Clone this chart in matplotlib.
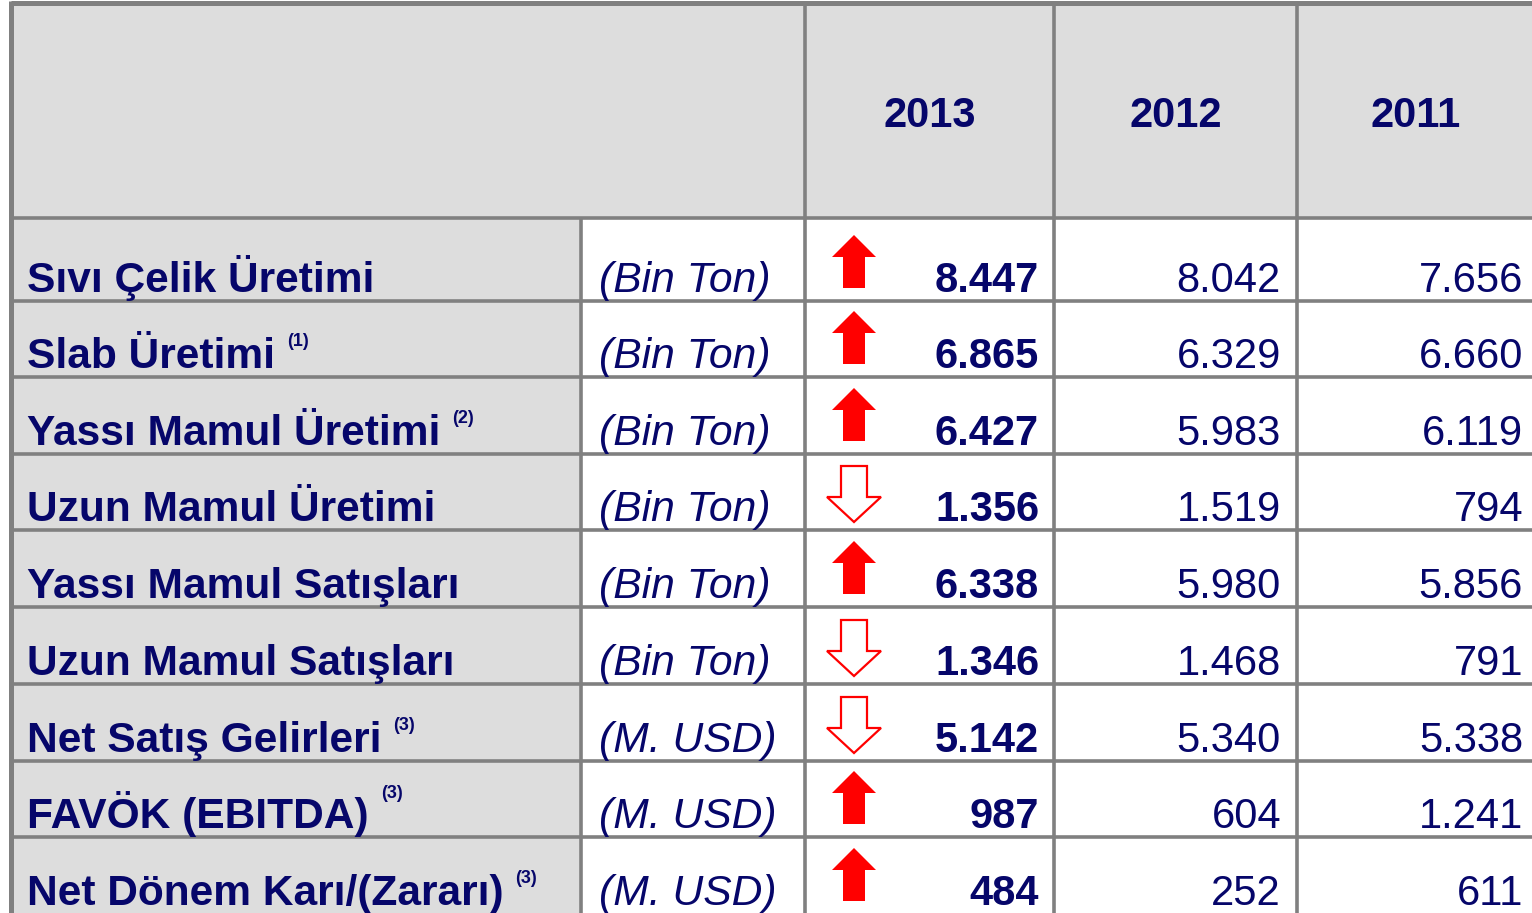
import matplotlib.pyplot as plt
from matplotlib.patches import Rectangle, Polygon

# table data
years = ["2013", "2012", "2011"]
labels = ["Sıvı Çelik Üretimi", "Slab Üretimi", "Yassı Mamul Üretimi",
          "Uzun Mamul Üretimi", "Yassı Mamul Satışları", "Uzun Mamul Satışları",
          "Net Satış Gelirleri", "FAVÖK (EBITDA)", "Net Dönem Karı/(Zararı)"]
notes = ["", "(1)", "(2)", "", "", "", "(3)", "(3)", "(3)"]
units = ["(Bin Ton)"] * 6 + ["(M. USD)"] * 3
v2013 = [8447, 6865, 6427, 1356, 6338, 1346, 5142, 987, 484]
v2012 = [8042, 6329, 5983, 1519, 5980, 1468, 5340, 604, 252]
v2011 = [7656, 6660, 6119, 794, 5856, 791, 5338, 1241, 611]

NAVY = "#06066a"
GRID = "#808080"
SHADE = "#dddddd"
RED = "#ff0000"
FONT = "Liberation Sans"
FS = 30

W, H = 1532, 913
fig = plt.figure(figsize=(W / 100, H / 100), dpi=100)
ax = fig.add_axes([0, 0, 1, 1])
ax.set_xlim(0, W)
ax.set_ylim(H, 0)
ax.axis("off")

# layout (pixels)
x_left, x_unit, x_d1, x_d2, x_d3, x_right = 10.5, 581, 805, 1054, 1297, 1540
y_top, y_head = 3.5, 218
row_lines = [218, 301, 377, 454, 530, 607, 684, 761, 837, 914]
lw = 2.6


def fmt(v):
    return f"{v:,}".replace(",", ".")


# backgrounds
ax.add_patch(Rectangle((x_left, y_top), x_right - x_left, y_head - y_top,
                       facecolor=SHADE, edgecolor="none"))
ax.add_patch(Rectangle((x_left, y_head), x_unit - x_left, H - y_head,
                       facecolor=SHADE, edgecolor="none"))

# grid lines
ax.plot([x_left, x_right], [y_top, y_top], color=GRID, lw=3.6, solid_capstyle="butt")
ax.plot([x_left, x_left], [y_top - 2, H], color=GRID, lw=3.6, solid_capstyle="butt")
for y in row_lines[:-1]:
    ax.plot([x_left, x_right], [y, y], color=GRID, lw=lw, solid_capstyle="butt")
ax.plot([x_unit, x_unit], [y_head, H], color=GRID, lw=lw, solid_capstyle="butt")
for x in (x_d1, x_d2, x_d3):
    ax.plot([x, x], [y_top, H], color=GRID, lw=lw, solid_capstyle="butt")

# header
for yr, x0, x1 in zip(years, (x_d1, x_d2, x_d3), (x_d2, x_d3, 1535)):
    ax.text((x0 + x1) / 2, 127, yr, ha="center", va="baseline", fontsize=FS,
            fontweight="bold", color=NAVY, family=FONT)

sup_off = {7: 30}
for i, lab in enumerate(labels):
    rb = row_lines[i + 1]
    base = rb - 9
    t = ax.text(27, base, lab, ha="left", va="baseline", fontsize=FS + 0.6,
                fontweight="bold", color=NAVY, family=FONT)
    if notes[i]:
        ax.annotate(notes[i], xy=(1, base - sup_off.get(i, 22)),
                    xycoords=(t, "data"), xytext=(12, 0), textcoords="offset pixels",
                    ha="left", va="baseline", fontsize=13, fontweight="bold",
                    color=NAVY, family=FONT)
    ax.text(599, base, units[i], ha="left", va="baseline", fontsize=FS + 0.7,
            style="italic", color=NAVY, family=FONT)
    ax.text(1039, base, fmt(v2013[i]), ha="right", va="baseline", fontsize=FS,
            fontweight="bold", color=NAVY, family=FONT)
    ax.text(1281, base, fmt(v2012[i]), ha="right", va="baseline", fontsize=FS,
            color=NAVY, family=FONT)
    ax.text(1523, base, fmt(v2011[i]), ha="right", va="baseline", fontsize=FS,
            color=NAVY, family=FONT)

    # trend arrow: 2013 vs 2012
    cx = 854
    if v2013[i] >= v2012[i]:
        top, hb, bot = rb - 66, rb - 44, rb - 13
        pts = [(cx, top), (cx + 22, hb), (cx + 11, hb), (cx + 11, bot),
               (cx - 11, bot), (cx - 11, hb), (cx - 22, hb)]
        ax.add_patch(Polygon(pts, closed=True, facecolor=RED, edgecolor="none"))
    else:
        top, hb, tip = rb - 64, rb - 33, rb - 8
        pts = [(cx - 13, top), (cx + 13, top), (cx + 13, hb), (cx + 27, hb),
               (cx, tip), (cx - 27, hb), (cx - 13, hb)]
        ax.add_patch(Polygon(pts, closed=True, facecolor="white", edgecolor=RED,
                             lw=1.6, joinstyle="miter"))

fig.savefig("out.png", dpi=100)
